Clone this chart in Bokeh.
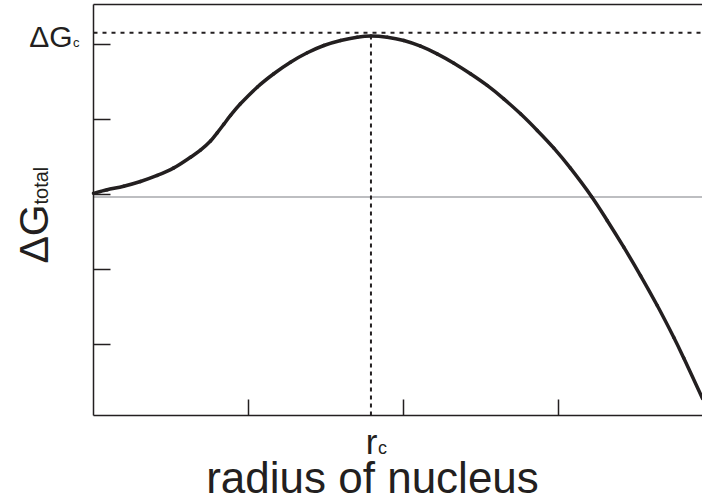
import numpy as np
from bokeh.plotting import figure
from bokeh.models import Label, LinearAxis, FixedTicker, Range1d
from bokeh.embed import file_html
from bokeh.resources import INLINE

# Free energy of a nucleus versus its radius (arbitrary units)
radius = [0.000, 0.088, 0.195, 0.303, 0.411, 0.518, 0.626, 0.690, 0.755, 0.798,
          0.841, 0.884, 0.948, 1.056, 1.163, 1.271, 1.379, 1.486, 1.594, 1.701,
          1.790, 1.895, 2.002, 2.110, 2.217, 2.325, 2.432, 2.540, 2.647, 2.755,
          2.863, 2.970, 3.077, 3.213, 3.314, 3.421, 3.529, 3.637, 3.744, 3.808,
          3.929]
dg_total = [0.010, 0.056, 0.104, 0.167, 0.247, 0.348, 0.491, 0.584, 0.707, 0.816,
            0.931, 1.047, 1.203, 1.424, 1.603, 1.757, 1.883, 1.980, 2.047, 2.091,
            2.107, 2.091, 2.047, 1.971, 1.869, 1.744, 1.603, 1.447, 1.269, 1.069,
            0.847, 0.611, 0.344, -0.033, -0.353, -0.709, -1.087, -1.487, -1.913, -2.187,
            -2.727]

r_crit = 1.79        # critical radius r_c
dg_crit = 2.15       # barrier height ΔG_c
baseline = -0.04     # zero-energy reference line
x_ticks = [1, 2, 3]
y_ticks = [-2, -1, 0, 1, 2]

# box of the axes, in data units
X0, X1 = 0.0, 3.929
Y0, Y1 = -2.953, 2.527
XL, YB, YT = -0.6, -4.0333, 2.58     # full canvas extent
W, H = 702, 496
PX_X = W / (X1 - XL)                  # pixels per x unit
PX_Y = H / (YT - YB)                  # pixels per y unit
INK = "#231f20"
FONT = "Liberation Sans"

# the frame covers the whole canvas so that the texts around the box stay visible;
# the axes are pinned to the box with fixed_location
p = figure(width=W, height=H, x_range=Range1d(XL, X1), y_range=Range1d(YB, YT),
           output_backend="svg", toolbar_location=None,
           min_border_left=0, min_border_right=0, min_border_top=0, min_border_bottom=0)
p.grid.visible = False
p.outline_line_color = None
p.background_fill_color = "white"
p.border_fill_color = "white"


def style_axis(ax, ticks, tick_len, loc, bounds):
    ax.ticker = FixedTicker(ticks=ticks)
    ax.fixed_location = loc
    ax.bounds = bounds
    ax.major_tick_in = tick_len
    ax.major_tick_out = 0
    ax.minor_tick_line_color = None
    ax.major_label_text_color = None
    ax.axis_line_width = 1.5
    ax.axis_line_color = INK
    ax.major_tick_line_width = 1.5
    ax.major_tick_line_color = INK


style_axis(p.xaxis[0], x_ticks, 16, Y0, (X0, X1))
style_axis(p.yaxis[0], y_ticks, 17, X0, (Y0, Y1))
top = LinearAxis()
style_axis(top, [], 0, Y1, (X0, X1))
p.add_layout(top, "above")

# zero reference
p.segment(x0=[X0], y0=[baseline], x1=[X1], y1=[baseline], line_color="#a7a9ac", line_width=1.5)

# guides to the maximum
p.segment(x0=[X0], y0=[dg_crit], x1=[X1], y1=[dg_crit],
          line_color=INK, line_width=2, line_dash="4 5")
p.segment(x0=[r_crit], y0=[Y0], x1=[r_crit], y1=[dg_crit],
          line_color=INK, line_width=2, line_dash="4 4")

# the curve, drawn as a smooth Catmull-Rom chain of cubic Bezier pieces
xs = np.asarray(radius)
ys = np.asarray(dg_total)
xp = np.concatenate([[xs[0]], xs, [xs[-1]]])
yp = np.concatenate([[ys[0]], ys, [ys[-1]]])
i = np.arange(len(xs) - 1) + 1
p.bezier(x0=xp[i], y0=yp[i], x1=xp[i + 1], y1=yp[i + 1],
         cx0=xp[i] + (xp[i + 1] - xp[i - 1]) / 6, cy0=yp[i] + (yp[i + 1] - yp[i - 1]) / 6,
         cx1=xp[i + 1] - (xp[i + 2] - xp[i]) / 6, cy1=yp[i + 1] - (yp[i + 2] - yp[i]) / 6,
         line_color=INK, line_width=3.5, line_cap="round")

# the svg text baseline lands about a third of the font size below the anchor
BASE_FIX = 0.33


def label(x, y, text, size, align="left", vertical=False):
    shift = BASE_FIX * size
    if vertical:
        x -= shift / PX_X
    else:
        y += shift / PX_Y
    p.add_layout(Label(x=x, y=y, text=text, text_font=FONT, text_font_size=f"{size}px",
                       text_color=INK, text_align=align, text_baseline="alphabetic",
                       angle=np.pi / 2 if vertical else 0.0))


# ΔG_c on the left of the barrier line
label(-0.135, 1.967, "ΔG", 30, align="right")
label(-0.132, 1.967, "c", 13)

# r_c under the critical radius
label(1.832, -3.46, "r", 35, align="right")
label(1.835, -3.46, "c", 18)

# axis titles
label(1.80, -3.967, "radius of nucleus", 44, align="center")
label(-0.297, -0.927, "ΔG", 41, vertical=True)
label(-0.297, -0.14, "total", 20, vertical=True)

open("out.html", "w").write(file_html(p, INLINE))
